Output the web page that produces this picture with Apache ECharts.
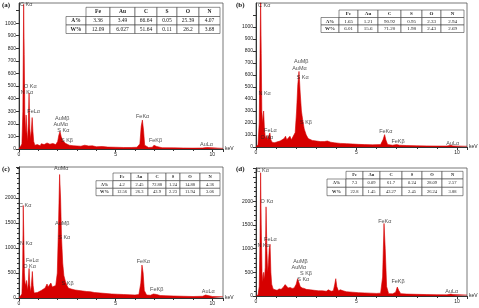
<!DOCTYPE html>
<html>
<head>
<meta charset="utf-8">
<script src="https://cdn.jsdelivr.net/npm/echarts@6/dist/echarts.min.js"></script>
<style>
  html, body { margin: 0; padding: 0; background: #fff; }
  #chart { width: 479px; height: 308px; }
</style>
</head>
<body>
<div id="chart"></div>
<script>
// EDS spectra, [keV, counts]
var specA = [[0,0],[0.1,5],[0.15,40],[0.2,300],[0.24,1150],[0.27,750],[0.3,280],[0.34,120],[0.37,270],[0.4,150],[0.44,60],[0.48,200],[0.52,445],[0.56,160],[0.6,80],[0.64,150],[0.68,250],[0.72,140],[0.76,60],[0.82,30],[0.9,20],[0.95,35],[1.0,25],[1.05,38],[1.1,25],[1.15,42],[1.2,30],[1.25,45],[1.3,35],[1.35,50],[1.4,33],[1.45,48],[1.5,40],[1.55,52],[1.6,38],[1.65,46],[1.7,35],[1.75,44],[1.8,32],[1.85,40],[1.9,35],[1.95,50],[2.0,60],[2.06,110],[2.12,140],[2.18,100],[2.25,70],[2.32,60],[2.4,45],[2.5,40],[2.6,30],[2.7,34],[2.8,26],[2.9,30],[3.0,24],[3.2,22],[3.3,28],[3.4,30],[3.5,22],[3.6,24],[3.8,25],[4.0,18],[4.3,20],[4.6,15],[5.0,14],[5.4,12],[5.8,12],[6.1,14],[6.25,40],[6.32,180],[6.38,230],[6.44,150],[6.5,30],[6.7,12],[6.9,14],[6.98,30],[7.05,37],[7.12,20],[7.4,10],[8,9],[8.5,8],[9,7],[9.5,8],[9.7,12],[9.8,8],[10.55,5]];
var specB = [[0,0],[0.1,20],[0.16,200],[0.2,780],[0.23,1250],[0.26,780],[0.29,300],[0.33,200],[0.38,300],[0.42,150],[0.47,70],[0.52,95],[0.56,60],[0.62,70],[0.69,117],[0.74,60],[0.8,40],[0.9,35],[1.0,40],[1.1,45],[1.2,50],[1.3,60],[1.4,70],[1.47,90],[1.53,60],[1.62,75],[1.69,90],[1.76,60],[1.85,70],[1.95,120],[2.02,300],[2.08,520],[2.14,630],[2.2,450],[2.26,300],[2.32,230],[2.4,150],[2.5,100],[2.6,70],[2.8,55],[3.0,50],[3.2,45],[3.4,45],[3.55,50],[3.64,60],[3.72,40],[3.9,35],[4.2,30],[4.5,28],[4.8,25],[5.1,22],[5.4,20],[5.8,18],[6.2,20],[6.32,60],[6.4,103],[6.46,60],[6.55,20],[6.8,15],[7.0,20],[7.06,28],[7.14,15],[7.5,12],[8,10],[8.5,9],[9,8],[9.5,8],[9.7,14],[9.8,9],[10.5,6]];
var specC = [[0,0],[0.1,10],[0.15,80],[0.19,600],[0.22,1850],[0.25,1200],[0.28,500],[0.32,250],[0.36,300],[0.39,350],[0.44,150],[0.48,300],[0.52,590],[0.56,250],[0.6,120],[0.64,250],[0.69,530],[0.73,250],[0.78,100],[0.85,90],[0.95,110],[1.05,130],[1.15,150],[1.25,160],[1.35,200],[1.45,280],[1.5,220],[1.6,260],[1.65,300],[1.72,220],[1.8,200],[1.9,250],[1.98,500],[2.04,1400],[2.1,2470],[2.15,2000],[2.2,1200],[2.26,700],[2.32,450],[2.4,330],[2.48,250],[2.55,200],[2.7,180],[2.9,160],[3.1,150],[3.3,140],[3.5,130],[3.7,125],[3.9,110],[4.2,100],[4.5,90],[4.8,80],[5.1,75],[5.4,70],[5.7,65],[6.0,60],[6.2,70],[6.3,300],[6.36,660],[6.42,500],[6.48,150],[6.6,60],[6.8,55],[6.95,80],[7.05,120],[7.12,70],[7.3,50],[7.6,45],[8,40],[8.5,35],[9,30],[9.5,35],[9.65,60],[9.75,45],[10,30],[10.55,25]];
var specD = [[0,0],[0.1,20],[0.16,200],[0.2,1200],[0.23,2600],[0.26,1500],[0.3,500],[0.34,300],[0.38,500],[0.42,350],[0.46,600],[0.5,1880],[0.54,1000],[0.58,500],[0.62,700],[0.66,1000],[0.7,1090],[0.74,500],[0.78,250],[0.85,150],[0.95,130],[1.05,120],[1.15,150],[1.25,140],[1.35,180],[1.45,240],[1.52,200],[1.6,170],[1.7,180],[1.8,160],[1.9,170],[2.0,250],[2.07,365],[2.14,280],[2.2,200],[2.3,170],[2.4,160],[2.5,140],[2.7,130],[2.9,120],[3.1,110],[3.3,110],[3.5,100],[3.6,130],[3.67,155],[3.74,100],[3.85,110],[3.92,250],[3.97,365],[4.02,200],[4.1,110],[4.2,130],[4.26,160],[4.33,110],[4.5,90],[4.8,80],[5.1,70],[5.4,65],[5.7,60],[6.0,55],[6.2,60],[6.3,400],[6.37,1530],[6.43,1000],[6.5,200],[6.6,50],[6.8,45],[6.95,80],[7.03,190],[7.1,120],[7.2,50],[7.5,40],[8,35],[8.5,30],[9,28],[9.5,25],[9.7,40],[9.8,30],[10.5,20]];

// peak annotations [keV, counts, text]
var peaksA = [[0.05,1145,'C Kα'],[0.26,500,'O Kα'],[0.09,452,'N Kα'],[0.43,296,'FeLα'],[1.86,243,'AuMβ'],[1.78,198,'AuMα'],[1.98,151,'S Kα'],[2.17,66,'S Kβ'],[6.05,262,'FeKα'],[6.72,71,'FeKβ'],[9.36,32,'AuLα']];
var peaksB = [[0.1,1180,'C Kα'],[0.12,450,'N Kα'],[0.4,136,'FeLα'],[0.23,83,'O Kα'],[1.89,714,'AuMβ'],[1.8,658,'AuMα'],[2.02,580,'S Kα'],[2.19,208,'S Kβ'],[6.13,130,'FeKα'],[6.74,47,'FeKβ'],[9.47,33,'AuLα']];
var peaksC = [[1.81,2587,'AuMα'],[0,1853,'C Kα'],[1.86,1500,'AuMβ'],[2.03,1207,'S Kα'],[0.05,1087,'N Kα'],[0.36,753,'FeLα'],[0.22,633,'O Kα'],[2.2,300,'S Kβ'],[6.09,740,'FeKα'],[6.78,173,'FeKβ'],[9.45,133,'AuLα']];
var peaksD = [[0.03,2655,'C Kα'],[0.23,1986,'O Kα'],[0.4,1190,'FeLα'],[0.07,1056,'N Kα'],[1.85,718,'AuMβ'],[1.77,599,'AuMα'],[2.19,472,'S Kβ'],[2.05,345,'S Kα'],[6.08,1577,'FeKα'],[6.74,296,'FeKβ'],[9.42,99,'AuLα']];

// composition tables
var elements = ['Fe', 'Au', 'C', 'S', 'O', 'N'];
var rowNames = ['A%', 'W%'];
var atomA = ['3.36', '3.49', '66.64', '0.05', '25.39', '4.07'];
var weightA = ['12.09', '6.027', '51.64', '0.11', '26.2', '3.68'];
var atomB = ['1.65', '1.21', '90.92', '0.95', '2.33', '2.94'];
var weightB = ['6.01', '15.6', '71.20', '1.98', '2.43', '2.69'];
var atomC = ['4.2', '2.45', '72.88', '1.24', '14.88', '4.36'];
var weightC = ['12.56', '26.3', '43.9', '2.23', '11.94', '3.06'];
var atomD = ['7.3', '0.09', '61.7', '0.24', '28.09', '2.57'];
var weightD = ['22.8', '1.45', '43.27', '2.45', '26.24', '3.88'];

var panels = [
  { tag: '(a)', spec: specA, peaks: peaksA, rows: [atomA, weightA], grid: { left: 19, top: 3, width: 204, height: 146 }, xMax: 10.55, yMax: 1160, yStep: 100, yTop: 1000,
    table: { lx: 66, cols: [86, 110, 135, 157, 177, 199, 220], rows: [7.3, 16.5, 25, 33.5], fs: 5.5 }, tagPos: [2, 2] },
  { tag: '(b)', spec: specB, peaks: peaksB, rows: [atomB, weightB], grid: { left: 256, top: 3, width: 211, height: 144 }, xMax: 10.5, yMax: 1200, yStep: 100, yTop: 1000,
    table: { lx: 321, cols: [339, 358, 378, 401, 422, 441, 464], rows: [10, 17.5, 25, 32.5], fs: 5 }, tagPos: [236, 2] },
  { tag: '(c)', spec: specC, peaks: peaksC, rows: [atomC, weightC], grid: { left: 19, top: 167, width: 204, height: 131 }, xMax: 10.55, yMax: 2620, yStep: 500, yTop: 2000,
    table: { lx: 96, cols: [113, 131, 148, 166, 180, 200, 220], rows: [173, 180.7, 188.3, 195.7], fs: 4.5 }, tagPos: [2, 166] },
  { tag: '(d)', spec: specD, peaks: peaksD, rows: [atomD, weightD], grid: { left: 256, top: 168, width: 211, height: 128 }, xMax: 10.5, yMax: 2700, yStep: 500, yTop: 2000,
    table: { lx: 327, cols: [346, 363, 380, 402, 422, 442, 463], rows: [171.3, 179, 187.3, 195.7], fs: 4.5 }, tagPos: [236, 166] }
];

var axisCol = '#333';
var txtCol = '#222';
var red = '#d60000';

function makeTable(t, rows) {
  var items = [];
  function cell(x0, x1, y0, y1, text, bold) {
    items.push({ type: 'rect', shape: { x: x0, y: y0, width: x1 - x0, height: y1 - y0 },
      style: { fill: '#fff', stroke: '#444', lineWidth: 0.6 } });
    items.push({ type: 'text', x: (x0 + x1) / 2, y: (y0 + y1) / 2,
      style: { text: text, fill: txtCol, font: (bold ? 'bold ' : '') + t.fs + 'px "Liberation Serif"', align: 'center', verticalAlign: 'middle' } });
  }
  for (var c = 0; c < 6; c++) cell(t.cols[c], t.cols[c + 1], t.rows[0], t.rows[1], elements[c], true);
  for (var r = 0; r < 2; r++) {
    cell(t.lx, t.cols[0], t.rows[r + 1], t.rows[r + 2], rowNames[r], true);
    for (var k = 0; k < 6; k++) cell(t.cols[k], t.cols[k + 1], t.rows[r + 1], t.rows[r + 2], rows[r][k], false);
  }
  return items;
}

var grids = [], xAxes = [], yAxes = [], series = [], graphics = [];
panels.forEach(function (p, i) {
  grids.push(Object.assign({ show: true, borderColor: '#555', borderWidth: 0.8, backgroundColor: 'transparent' }, p.grid));
  xAxes.push({
    gridIndex: i, type: 'value', min: 0, max: p.xMax, interval: 5,
    name: 'keV', nameLocation: 'end', nameGap: 2,
    nameTextStyle: { fontSize: 5, color: txtCol, fontFamily: 'Liberation Sans' },
    axisLine: { lineStyle: { color: axisCol, width: 1 } },
    axisTick: { length: 3, lineStyle: { color: axisCol } },
    minorTick: { show: true, splitNumber: 5, length: 2, lineStyle: { color: axisCol } },
    splitLine: { show: false },
    axisLabel: { fontSize: 5, color: txtCol, margin: 3, fontFamily: 'Liberation Sans', showMaxLabel: false,
      formatter: function (v) { return v % 5 === 0 ? String(v) : ''; } }
  });
  yAxes.push({
    gridIndex: i, type: 'value', min: 0, max: p.yMax, interval: p.yStep,
    axisLine: { show: true, lineStyle: { color: axisCol, width: 1 } },
    axisTick: { show: true, length: 3, lineStyle: { color: axisCol } },
    minorTick: { show: p.yStep === 500, splitNumber: 5, length: 2, lineStyle: { color: axisCol } },
    splitLine: { show: false },
    axisLabel: { fontSize: 5, color: txtCol, margin: 3, fontFamily: 'Liberation Sans', showMaxLabel: false,
      formatter: function (v) { return v <= p.yTop ? String(v) : ''; } }
  });
  series.push({
    type: 'line', xAxisIndex: i, yAxisIndex: i, data: p.spec, symbol: 'none', silent: true,
    lineStyle: { color: red, width: 0.6 }, areaStyle: { color: red, opacity: 1 }, z: 2
  });
  series.push({
    type: 'scatter', xAxisIndex: i, yAxisIndex: i, symbolSize: 0, silent: true, z: 5,
    data: p.peaks.map(function (d) { return { value: [d[0], d[1]], name: d[2] }; }),
    label: { show: true, position: 'right', distance: 0, formatter: '{b}', fontSize: 5.5, color: txtCol, fontFamily: 'Liberation Sans' }
  });
  graphics = graphics.concat(makeTable(p.table, p.rows));
  graphics.push({ type: 'text', x: p.tagPos[0], y: p.tagPos[1],
    style: { text: p.tag, fill: '#111', font: 'bold 7px "Liberation Serif"' } });
});

var chart = echarts.init(document.getElementById('chart'), null, { renderer: 'canvas' });
chart.setOption({
  backgroundColor: '#fff',
  animation: false,
  grid: grids,
  xAxis: xAxes,
  yAxis: yAxes,
  series: series,
  graphic: { elements: graphics }
});
</script>
</body>
</html>
